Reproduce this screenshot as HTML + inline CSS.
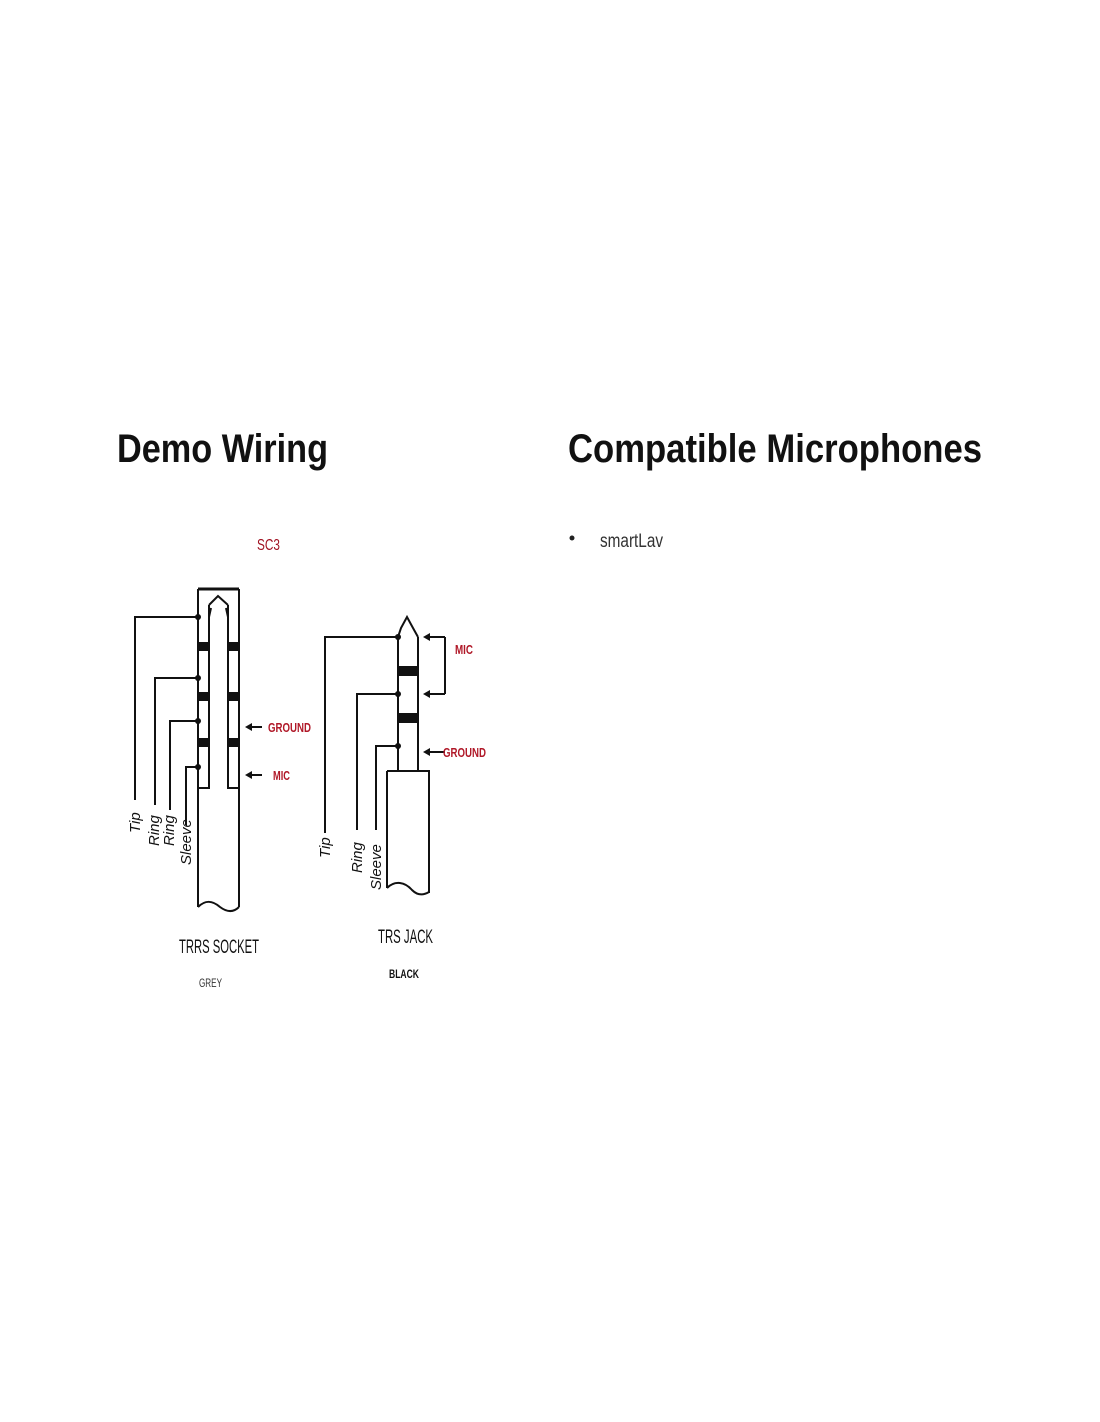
<!DOCTYPE html>
<html><head><style>
html,body{margin:0;padding:0;background:#fff;}
svg{display:block;}
</style></head><body>
<svg width="1100" height="1422" viewBox="0 0 1100 1422" xmlns="http://www.w3.org/2000/svg" font-family="Liberation Sans, sans-serif">
<rect width="1100" height="1422" fill="#fff"/>
<text x="117" y="462" font-size="40" font-weight="bold" fill="#111" textLength="211" lengthAdjust="spacingAndGlyphs">Demo Wiring</text>
<text x="568" y="462" font-size="40" font-weight="bold" fill="#111" textLength="414" lengthAdjust="spacingAndGlyphs">Compatible Microphones</text>
<circle cx="572" cy="538" r="2.5" fill="#222"/>
<text x="600" y="547" font-size="19" fill="#333" textLength="63" lengthAdjust="spacingAndGlyphs">smartLav</text>
<text x="257" y="550" font-size="16" fill="#a01020" textLength="23" lengthAdjust="spacingAndGlyphs">SC3</text>

<g stroke="#111" fill="none" stroke-width="2">
<!-- socket -->
<path d="M198,589 L239,589" stroke-width="3"/>
<path d="M198,589 L198,907"/>
<path d="M239,589 L239,788"/>
<path d="M239,788 L239,907"/>
<path d="M209,605 L209,788 L198,788"/>
<path d="M228,605 L228,788 L239,788"/>
<path d="M209,605 L218,596 L228,605 M211,608 L209,617 M226,608 L228,617"/>
<path d="M198,907 C205,900 212,900 220,907 C228,913 234,912 239,907"/>
<path d="M198,617 L135,617 L135,800"/>
<path d="M198,678 L155,678 L155,805"/>
<path d="M198,721 L170,721 L170,810"/>
<path d="M198,767 L186,767 L186,825"/>
<path d="M262,727 L250,727"/>
<path d="M262,775 L250,775"/>
<!-- jack -->
<path d="M398,637 L398,771 M418,637 L418,771"/>
<path d="M398,637 L401,628 L407,617 L413,628 L418,637"/>
<path d="M387,771 L429,771 L429,893 M387,771 L387,888"/>
<path d="M387,888 C395,880 405,882 412,890 C418,896 424,895 429,892"/>
<path d="M398,637 L325,637 L325,833"/>
<path d="M398,694 L357,694 L357,830"/>
<path d="M398,746 L376,746 L376,830"/>
<path d="M445,637 L428,637 M445,694 L428,694 M445,637 L445,694"/>
<path d="M445,752 L428,752"/>
</g>
<g fill="#111">
<rect x="198" y="642" width="11" height="9"/><rect x="228" y="642" width="11" height="9"/>
<rect x="198" y="692" width="11" height="9"/><rect x="228" y="692" width="11" height="9"/>
<rect x="198" y="738" width="11" height="9"/><rect x="228" y="738" width="11" height="9"/>
<circle cx="198" cy="617" r="3"/><circle cx="198" cy="678" r="3"/><circle cx="198" cy="721" r="3"/><circle cx="198" cy="767" r="3"/>
<polygon points="245,727 252,723 252,731"/><polygon points="245,775 252,771 252,779"/>
<rect x="398" y="666" width="20" height="10"/><rect x="398" y="713" width="20" height="10"/>
<circle cx="398" cy="637" r="3"/><circle cx="398" cy="694" r="3"/><circle cx="398" cy="746" r="3"/>
<polygon points="423,637 430,633 430,641"/><polygon points="423,694 430,690 430,698"/><polygon points="423,752 430,748 430,756"/>
</g>
<g font-size="15" font-style="italic" fill="#111">
<text transform="translate(140,833) rotate(-90)">Tip</text>
<text transform="translate(159,846) rotate(-90)">Ring</text>
<text transform="translate(174,846) rotate(-90)">Ring</text>
<text transform="translate(191,865) rotate(-90)">Sleeve</text>
<text transform="translate(330,858) rotate(-90)">Tip</text>
<text transform="translate(362,873) rotate(-90)">Ring</text>
<text transform="translate(381,890) rotate(-90)">Sleeve</text>
</g>
<g font-size="13" font-weight="bold" fill="#b01828">
<text x="268" y="732" textLength="43" lengthAdjust="spacingAndGlyphs">GROUND</text>
<text x="273" y="780" textLength="17" lengthAdjust="spacingAndGlyphs">MIC</text>
<text x="455" y="654" textLength="18" lengthAdjust="spacingAndGlyphs">MIC</text>
<text x="443" y="757" textLength="43" lengthAdjust="spacingAndGlyphs">GROUND</text>
</g>
<text x="179" y="953" font-size="19" fill="#111" textLength="80" lengthAdjust="spacingAndGlyphs">TRRS SOCKET</text>
<text x="199" y="987" font-size="12" fill="#333" textLength="23" lengthAdjust="spacingAndGlyphs">GREY</text>
<text x="378" y="943" font-size="19" fill="#111" textLength="55" lengthAdjust="spacingAndGlyphs">TRS JACK</text>
<text x="389" y="978" font-size="12" font-weight="bold" fill="#111" textLength="30" lengthAdjust="spacingAndGlyphs">BLACK</text>
</svg>
</body></html>
